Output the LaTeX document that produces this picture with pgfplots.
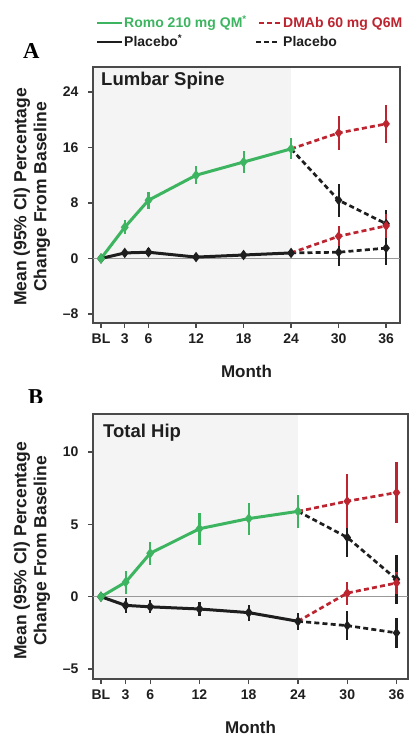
\documentclass[border=0pt]{standalone}
\usepackage{fontspec}
\setmainfont{Liberation Sans}
\newfontfamily\serifb{Liberation Serif}
\usepackage{pgfplots}
\pgfplotsset{compat=1.18}
\definecolor{cG}{HTML}{3DB460}
\definecolor{cR}{HTML}{BC2430}
\definecolor{cK}{HTML}{1E1E1E}
\definecolor{cFr}{HTML}{4A4A4A}
\definecolor{cSh}{HTML}{F4F4F4}
\newcommand{\tk}{\fontsize{14}{14}\selectfont\bfseries}
\pgfplotsset{
  panel/.style={
    scale only axis, set layers, clip=false,
    axis line style={draw=cFr, line width=1.5pt},
    tick style={draw=cFr, line width=1.3pt},
    major tick length=5pt, tick align=outside,
    xtick pos=left, ytick pos=left,
    xtick={0,3,6,12,18,24,30,36},
    xticklabels={BL,3,6,12,18,24,30,36},
    tick label style={font=\tk, text=cK},
    xticklabel style={yshift=-2pt},
    yticklabel style={xshift=-6pt},
    xlabel={Month}, xlabel style={font=\fontsize{17}{17}\selectfont\bfseries, text=cK, yshift=-15pt},
  },
  shade/.style={fill=cSh, draw=none, on layer=axis background, forget plot},
  solidser/.style={#1, line width=3pt, mark=diamond*, mark size=2.8pt,
    error bars/.cd, y dir=both, y explicit, error mark=none,
    error bar style={line width=2.1pt, #1}},
  dashser/.style={#1, line width=2.7pt, dash pattern=on 5pt off 3.2pt,
    mark=diamond*, mark size=2.8pt, mark options={solid}, mark indices={2,3},
    error bars/.cd, y dir=both, y explicit, error mark=none,
    error bar style={solid, line width=2.1pt, #1}},
}
\begin{document}
\begin{tikzpicture}

% legend
\draw[cG, line width=2.8pt] (97pt,-23pt) -- (122pt,-23pt);
\node[anchor=base west, inner sep=0pt, text=cG, font=\fontsize{14}{14}\selectfont\bfseries] at (124pt,-27.5pt) {Romo 210 mg QM\textsuperscript{*}};
\draw[cR, line width=2.6pt, dash pattern=on 5pt off 3.2pt] (259pt,-23pt) -- (281pt,-23pt);
\node[anchor=base west, inner sep=0pt, text=cR, font=\fontsize{14}{14}\selectfont\bfseries] at (283pt,-27.5pt) {DMAb 60 mg Q6M};
\draw[cK, line width=2.8pt] (97pt,-42pt) -- (122pt,-42pt);
\node[anchor=base west, inner sep=0pt, text=cK, font=\fontsize{14}{14}\selectfont\bfseries] at (124pt,-46.5pt) {Placebo\textsuperscript{*}};
\draw[cK, line width=2.6pt, dash pattern=on 5pt off 3.2pt] (256pt,-42pt) -- (280pt,-42pt);
\node[anchor=base west, inner sep=0pt, text=cK, font=\fontsize{14}{14}\selectfont\bfseries] at (283pt,-46.5pt) {Placebo};

% panel letters
\node[anchor=base west, inner sep=0pt, font=\fontsize{22.7}{22.7}\selectfont\serifb\bfseries] at (23pt,-58pt) {A};
\node[anchor=base west, inner sep=0pt, font=\fontsize{22.7}{22.7}\selectfont\serifb\bfseries] at (28pt,-404pt) {B};
\fill[white] (20pt,-403pt) rectangle (60pt,-410pt);

% ---- panel A: lumbar spine
\begin{axis}[panel, at={(93pt,-323pt)}, anchor=south west,
  width=307pt, height=256pt,
  xmin=-1.01, xmax=37.75, ymin=-9.3, ymax=27.6,
  ytick={-8,0,8,16,24}, yticklabels={\textendash8,0,8,16,24}]
  \addplot[shade] coordinates {(-1.01,-9.3) (24,-9.3) (24,27.6) (-1.01,27.6)} -- cycle;
  \addplot[gray!80, line width=1pt, forget plot] coordinates {(-1.01,0) (37.75,0)};
  % dashed extension years 2-3
  \addplot[dashser=cK] coordinates {(24,15.8) +- (0,0) (30,8.4) +- (0,2.35) (36,5.0) +- (0,2.0)};
  \addplot[dashser=cK] coordinates {(24,0.8) +- (0,0) (30,0.9) +- (0,2.0) (36,1.5) +- (0,2.5)};
  \addplot[dashser=cR] coordinates {(24,15.8) +- (0,0) (30,18.1) +- (0,2.4) (36,19.4) +- (0,2.7)};
  \addplot[dashser=cR] coordinates {(24,0.8) +- (0,0) (30,3.2) +- (0,1.45) (36,4.7) +- (0,1.75)};
  % year 1-2
  \addplot[solidser=cK] coordinates {(0,0) +- (0,0) (3,0.8) +- (0,0.6) (6,0.9) +- (0,0.6)
    (12,0.2) +- (0,0.6) (18,0.5) +- (0,0.6) (24,0.8) +- (0,0.6)};
  \addplot[solidser=cG] coordinates {(0,0) +- (0,0) (3,4.5) +- (0,1.0) (6,8.4) +- (0,1.2)
    (12,12.0) +- (0,1.3) (18,13.9) +- (0,1.6) (24,15.8) +- (0,1.5)};
\end{axis}
\node[anchor=base west, inner sep=0pt, text=cK, font=\fontsize{18.5}{18.5}\selectfont\bfseries] at (101pt,-85pt) {Lumbar Spine};
\node[rotate=90, align=center, text=cK, font=\fontsize{17.5}{20}\selectfont\bfseries] at (32pt,-197pt) {Mean (95\% CI) Percentage\\Change From Baseline};

% ---- panel B: total hip
\begin{axis}[panel, at={(93pt,-679pt)}, anchor=south west,
  width=315pt, height=265pt,
  xmin=-0.97, xmax=37.4, ymin=-5.69, ymax=12.63,
  ytick={-5,0,5,10}, yticklabels={\textendash5,0,5,10}]
  \addplot[shade] coordinates {(-0.97,-5.69) (24,-5.69) (24,12.63) (-0.97,12.63)} -- cycle;
  \addplot[gray!80, line width=1pt, forget plot] coordinates {(-0.97,0) (37.4,0)};
  \addplot[dashser=cK] coordinates {(24,5.9) +- (0,0) (30,4.1) +- (0,1.35) (36,1.2) +- (0,1.7)};
  \addplot[dashser=cK] coordinates {(24,-1.7) +- (0,0) (30,-2.0) +- (0,1.0) (36,-2.5) +- (0,1.05)};
  \addplot[dashser=cR] coordinates {(24,5.9) +- (0,0) (30,6.6) +- (0,1.85) (36,7.2) +- (0,2.1)};
  \addplot[dashser=cR] coordinates {(24,-1.7) +- (0,0) (30,0.25) +- (0,0.8) (36,0.95) +- (0,0.75)};
  \addplot[solidser=cK] coordinates {(0,0) +- (0,0) (3,-0.6) +- (0,0.5) (6,-0.7) +- (0,0.45)
    (12,-0.85) +- (0,0.5) (18,-1.1) +- (0,0.55) (24,-1.7) +- (0,0.6)};
  \addplot[solidser=cG] coordinates {(0,0) +- (0,0) (3,1.0) +- (0,0.8) (6,3.0) +- (0,0.8)
    (12,4.7) +- (0,1.1) (18,5.4) +- (0,1.1) (24,5.9) +- (0,1.15)};
\end{axis}
\node[anchor=base west, inner sep=0pt, text=cK, font=\fontsize{18.5}{18.5}\selectfont\bfseries] at (103pt,-437pt) {Total Hip};
\node[rotate=90, align=center, text=cK, font=\fontsize{17.5}{20}\selectfont\bfseries] at (32pt,-551pt) {Mean (95\% CI) Percentage\\Change From Baseline};

\pgfresetboundingbox
\path[use as bounding box] (0,0) rectangle (408pt,-736pt);
\end{tikzpicture}
\end{document}
